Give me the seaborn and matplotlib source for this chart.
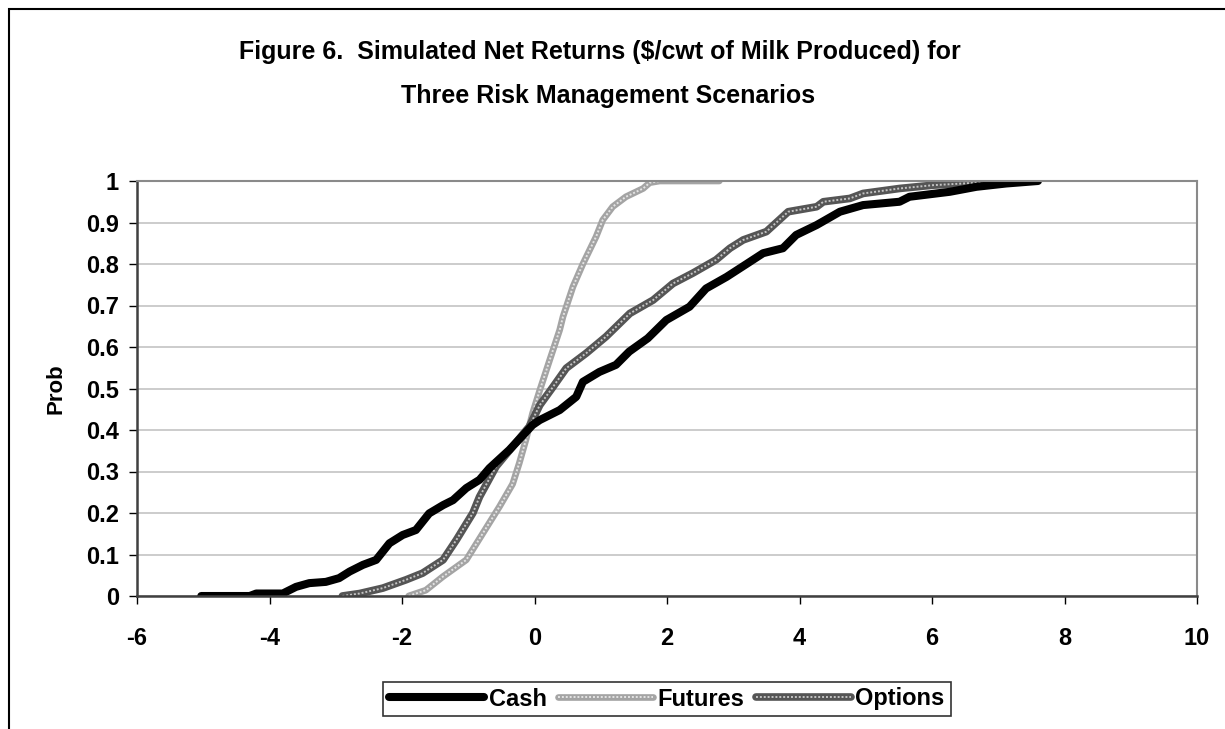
import seaborn as sns
import matplotlib.pyplot as plt
from matplotlib.lines import Line2D
from matplotlib.patches import Rectangle
from matplotlib.legend_handler import HandlerTuple

# cumulative probability curves
cash_x = [-5.03, -4.3, -4.2, -3.8, -3.6, -3.4, -3.15, -2.95, -2.79, -2.59, -2.39, -2.19, -1.99, -1.79,
          -1.59, -1.38, -1.23, -1.03, -0.83, -0.68, -0.38, -0.03, 0.08, 0.38, 0.63, 0.73, 0.98, 1.23,
          1.43, 1.71, 1.99, 2.34, 2.59, 2.90, 3.20, 3.45, 3.75, 3.95, 4.26, 4.61, 4.96, 5.51, 5.66,
          6.27, 6.67, 7.12, 7.60]
cash_y = [0, 0, 0.006, 0.006, 0.022, 0.031, 0.034, 0.043, 0.059, 0.075, 0.087, 0.127, 0.147, 0.159,
          0.199, 0.219, 0.231, 0.26, 0.28, 0.308, 0.352, 0.412, 0.424, 0.448, 0.48, 0.516, 0.54, 0.557,
          0.589, 0.621, 0.665, 0.697, 0.741, 0.769, 0.80, 0.826, 0.838, 0.87, 0.894, 0.926, 0.942, 0.95,
          0.962, 0.974, 0.986, 0.994, 1.0]

futures_x = [-1.9, -1.64, -1.38, -1.03, -0.78, -0.53, -0.33, -0.23, -0.13, -0.03, 0.08, 0.23, 0.38,
             0.43, 0.58, 0.73, 0.93, 1.03, 1.18, 1.38, 1.64, 1.74, 1.89, 2.79]
futures_y = [0, 0.014, 0.047, 0.087, 0.151, 0.215, 0.27, 0.32, 0.376, 0.44, 0.496, 0.569, 0.641,
             0.673, 0.745, 0.80, 0.866, 0.906, 0.938, 0.962, 0.982, 0.996, 1.0, 1.0]

options_x = [-2.9, -2.64, -2.29, -1.94, -1.69, -1.38, -1.18, -0.93, -0.83, -0.58, -0.33, -0.08, 0.08,
             0.28, 0.48, 0.78, 1.08, 1.44, 1.79, 2.09, 2.39, 2.74, 2.95, 3.15, 3.50, 3.83, 4.26, 4.36,
             4.76, 4.96, 5.51, 6.02, 6.92]
options_y = [0, 0.006, 0.019, 0.039, 0.055, 0.087, 0.135, 0.20, 0.239, 0.312, 0.36, 0.408, 0.46,
             0.504, 0.549, 0.585, 0.625, 0.681, 0.713, 0.753, 0.778, 0.81, 0.838, 0.858, 0.878, 0.926,
             0.938, 0.95, 0.958, 0.970, 0.982, 0.99, 0.998]

x_ticks = [-6, -4, -2, 0, 2, 4, 6, 8, 10]
y_ticks = [0, 0.1, 0.2, 0.3, 0.4, 0.5, 0.6, 0.7, 0.8, 0.9, 1]
y_labels = ["0", "0.1", "0.2", "0.3", "0.4", "0.5", "0.6", "0.7", "0.8", "0.9", "1"]

sns.set_theme(style="white")
plt.rcParams['font.family'] = ['Liberation Sans', 'DejaVu Sans']
plt.rcParams['font.weight'] = 'bold'
plt.rcParams['text.color'] = 'black'
plt.rcParams['axes.labelcolor'] = 'black'
plt.rcParams['axes.unicode_minus'] = False

fig = plt.figure(figsize=(12.25, 7.29), dpi=100)
ax = fig.add_axes([137 / 1225, 1 - 596 / 729, 1060 / 1225, 415 / 729])

# Excel-like chart border (runs off the right and bottom edges)
fig.patches.append(Rectangle((9 / 1225, -0.05), 1.1, 1 - 9 / 729 + 0.05, transform=fig.transFigure,
                             fill=False, edgecolor='black', linewidth=1.5, zorder=0))

dot = (0, (1, 1))
sns.lineplot(x=futures_x, y=futures_y, ax=ax, color='#a4a4a4', linewidth=4.8, sort=False, estimator=None)
sns.lineplot(x=futures_x, y=futures_y, ax=ax, color='#e4e4e4', linewidth=1.4, linestyle=dot, sort=False, estimator=None)
sns.lineplot(x=options_x, y=options_y, ax=ax, color='#555555', linewidth=5.5, sort=False, estimator=None)
sns.lineplot(x=options_x, y=options_y, ax=ax, color='#c4c4c4', linewidth=1.4, linestyle=dot, sort=False, estimator=None)
sns.lineplot(x=cash_x, y=cash_y, ax=ax, color='black', linewidth=5.8, sort=False, estimator=None)

ax.set_xlim(-6, 10)
ax.set_ylim(0, 1)
ax.set_xticks(x_ticks)
ax.set_yticks(y_ticks)
ax.set_yticklabels(y_labels)
ax.tick_params(axis='both', labelsize=17, colors='black', length=6, width=1, direction='out',
               bottom=True, left=True)
ax.tick_params(axis='x', pad=16)
ax.tick_params(axis='y', pad=7)
for lab in ax.get_xticklabels() + ax.get_yticklabels():
    lab.set_fontweight('bold')
ax.yaxis.grid(True, color='#c8c8c8', linewidth=1.3)
ax.xaxis.grid(False)
for side in ['left', 'bottom']:
    ax.spines[side].set_color('#404040')
    ax.spines[side].set_linewidth(1.8)
for side in ['top', 'right']:
    ax.spines[side].set_color('#8a8a8a')
    ax.spines[side].set_linewidth(1.5)
ax.set_ylabel('Prob', fontsize=16, fontweight='bold', labelpad=14)
ax.set_xlabel('')

fig.text(0.490, 1 - 52 / 729, 'Figure 6.  Simulated Net Returns ($/cwt of Milk Produced) for',
         ha='center', va='center', fontsize=18, fontweight='bold')
fig.text(0.496, 1 - 96 / 729, 'Three Risk Management Scenarios',
         ha='center', va='center', fontsize=18, fontweight='bold')

h_cash = Line2D([], [], color='black', linewidth=5.8)
h_fut = (Line2D([], [], color='#a4a4a4', linewidth=4.8), Line2D([], [], color='#e4e4e4', linewidth=1.4, linestyle=dot))
h_opt = (Line2D([], [], color='#555555', linewidth=5.5), Line2D([], [], color='#c4c4c4', linewidth=1.4, linestyle=dot))
leg = fig.legend([h_cash, h_fut, h_opt], ['Cash', 'Futures', 'Options'],
                 handler_map={tuple: HandlerTuple(ndivide=1, pad=0)},
                 loc='center', bbox_to_anchor=(667 / 1225, 1 - 699 / 729), ncol=3,
                 prop={'weight': 'bold', 'size': 17}, frameon=True, fancybox=False,
                 handlelength=4.0, handletextpad=0.2, columnspacing=0.5, borderpad=0.25)
leg.get_frame().set_edgecolor('black')
leg.get_frame().set_linewidth(1.2)

fig.savefig('out.png', dpi=100)
